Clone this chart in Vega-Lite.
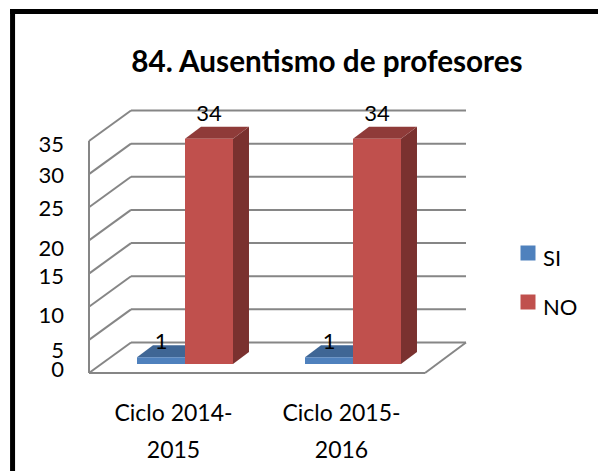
{
"$schema":"https://vega.github.io/schema/vega-lite/v6.json",
"width":336,"height":232,
"autosize":{"type":"none"},
"padding":{"left":89,"top":141,"right":173,"bottom":98},
"background":"white",
"config":{"view":{"stroke":null},"font":"Lato","axis":{"grid":false,"domain":false,"ticks":false,"labelFont":"Lato","labelFontSize":22,"labelColor":"#000000","labelBound":false,"labelFlush":false,"labelOverlap":false}},
"title":{"text":"84. Ausentismo de profesores","font":"Lato","fontSize":29.7,"fontWeight":"bold","color":"#000000","anchor":"middle","frame":"group","dx":70,"offset":-72},
"datasets":{
 "barras":[
  {"ciclo":"Ciclo 2014-2015","serie":"SI","valor":1},
  {"ciclo":"Ciclo 2014-2015","serie":"NO","valor":34},
  {"ciclo":"Ciclo 2015-2016","serie":"SI","valor":1},
  {"ciclo":"Ciclo 2015-2016","serie":"NO","valor":34}],
 "marcas":[{"t":0},{"t":5},{"t":10},{"t":15},{"t":20},{"t":25},{"t":30},{"t":35}],
 "uno":[{"u":1}]
},
"data":{"name":"barras"},
"transform":[
 {"calculate":"indexof(['Ciclo 2014-2015','Ciclo 2015-2016'],datum.ciclo)","as":"idx"},
 {"calculate":"datum.idx+0.5-(datum.serie=='SI'?0.2857:0)","as":"x0"},
 {"calculate":"datum.x0+0.2857","as":"x1"},
 {"calculate":"datum.ciclo+datum.serie","as":"barra"}
],
"layer":[
 {"data":{"name":"uno"},"transform":[],"mark":{"type":"rule","color":"#000000","strokeWidth":5,"clip":false},
  "encoding":{"x":{"datum":-0.455,"type":"quantitative","scale":{"domain":[0,2],"nice":false,"zero":false},
     "axis":{"title":null,"values":[0.5,1.5],"labelFontSize":23,"labelPadding":40.5,"labelBaseline":"middle","labelLineHeight":37,"labelOverlap":false,"labelExpr":"datum.value<1?['Ciclo 2014-','2015']:['Ciclo 2015-','2016']"}},
   "y":{"datum":-14.8,"type":"quantitative","scale":{"domain":[0,35],"nice":false,"zero":false},
     "axis":{"title":null,"labels":false}},
   "y2":{"datum":54.9}}},
 {"data":{"name":"uno"},"transform":[],"mark":{"type":"rule","color":"#000000","strokeWidth":5,"clip":false},
  "encoding":{"x":{"datum":-0.47,"type":"quantitative","title":null},"x2":{"datum":3.03},"y":{"datum":54.54,"type":"quantitative","title":null}}},
 {"data":{"name":"marcas"},"transform":[],"mark":{"type":"rule","color":"#868686","strokeWidth":2,"xOffset":42,"x2Offset":41,"yOffset":-30.5},
  "encoding":{"x":{"datum":0,"type":"quantitative","title":null},"x2":{"datum":2},"y":{"field":"t","type":"quantitative","title":null}}},
 {"data":{"name":"marcas"},"transform":[],"mark":{"type":"rule","color":"#868686","strokeWidth":2,"x2Offset":42,"y2Offset":-30.5},
  "encoding":{"x":{"datum":0,"type":"quantitative","title":null},"x2":{"datum":0},"y":{"field":"t","type":"quantitative","title":null},"y2":{"field":"t"}}},
 {"data":{"name":"marcas"},"transform":[],"mark":{"type":"text","font":"Lato","fontSize":22,"color":"#000000","align":"right","baseline":"middle","dx":-25,"dy":{"expr":"datum.t==35?4:datum.t==30?2:datum.t==25?2:datum.t==20?9:datum.t==15?3:datum.t==10?9:datum.t==5?11:-3"}},
  "encoding":{"x":{"datum":0,"type":"quantitative","title":null},"y":{"field":"t","type":"quantitative","title":null},"text":{"field":"t","type":"quantitative"}}},
 {"data":{"name":"uno"},"transform":[],"mark":{"type":"rule","color":"#868686","strokeWidth":2},
  "encoding":{"x":{"datum":0,"type":"quantitative","title":null},"y":{"datum":0,"type":"quantitative","title":null},"y2":{"datum":35}}},
 {"data":{"name":"uno"},"transform":[],"mark":{"type":"rule","color":"#868686","strokeWidth":2},
  "encoding":{"x":{"datum":0,"type":"quantitative","title":null},"x2":{"datum":2},"y":{"datum":0,"type":"quantitative","title":null}}},
 {"data":{"name":"uno"},"transform":[],"mark":{"type":"rule","color":"#868686","strokeWidth":2,"x2Offset":41,"y2Offset":-30.5},
  "encoding":{"x":{"datum":2,"type":"quantitative","title":null},"x2":{"datum":2},"y":{"datum":0,"type":"quantitative","title":null},"y2":{"datum":0}}},
 {"transform":[{"calculate":"[0,1]","as":"d"},{"flatten":["d"]},{"calculate":"datum.x1+datum.d*0.0952","as":"sx"},{"calculate":"datum.valor+datum.d*1.81","as":"sy"},{"calculate":"datum.d*1.81","as":"sy2"}],
  "mark":{"type":"area","orient":"vertical","xOffset":12,"yOffset":-9,"y2Offset":-9},
  "encoding":{"x":{"field":"sx","type":"quantitative","title":null},"y":{"field":"sy","type":"quantitative","title":null,"stack":null},"y2":{"field":"sy2"},"detail":{"field":"barra"},"fill":{"condition":{"test":"datum.serie=='NO'","value":"#7a312f"},"value":"#375a84"}}},
 {"transform":[{"calculate":"[0,1]","as":"d"},{"flatten":["d"]},{"calculate":"datum.x0+datum.d*0.0952","as":"tx"},{"calculate":"datum.x1+datum.d*0.0952","as":"tx2"},{"calculate":"datum.valor+datum.d*1.81","as":"ty"}],
  "mark":{"type":"area","orient":"horizontal","xOffset":12,"x2Offset":12,"yOffset":-9},
  "encoding":{"y":{"field":"ty","type":"quantitative","title":null},"x":{"field":"tx","type":"quantitative","title":null,"stack":null},"x2":{"field":"tx2"},"detail":{"field":"barra"},"fill":{"condition":{"test":"datum.serie=='NO'","value":"#8f3b39"},"value":"#3f6695"}}},
 {"mark":{"type":"rect","xOffset":12,"x2Offset":12,"yOffset":-9,"y2Offset":-9},
  "encoding":{"x":{"field":"x0","type":"quantitative","title":null},"x2":{"field":"x1"},"y":{"field":"valor","type":"quantitative","title":null},"y2":{"datum":0},
   "color":{"field":"serie","type":"nominal","scale":{"domain":["SI","NO"],"range":["#4f81bd","#c0504d"]},
    "legend":{"title":null,"orient":"none","legendX":428,"legendY":101,"symbolType":"square","symbolSize":225,"symbolStrokeWidth":0,"symbolOpacity":1,"labelFont":"Lato","labelFontSize":22,"labelColor":"#000000","labelOffset":4,"rowPadding":21,"encode":{"labels":{"update":{"dy":{"value":6}}}}}}}},
 {"transform":[{"calculate":"(datum.x0+datum.x1)/2","as":"cx"}],
  "mark":{"type":"text","font":"Lato","fontSize":22,"color":"#000000","baseline":"middle","align":"center","xOffset":12,"yOffset":-9,"dy":{"expr":"datum.serie=='NO'?-25:-15"}},
  "encoding":{"x":{"field":"cx","type":"quantitative","title":null},"y":{"field":"valor","type":"quantitative","title":null},"text":{"field":"valor","type":"quantitative"}}}
]
}
